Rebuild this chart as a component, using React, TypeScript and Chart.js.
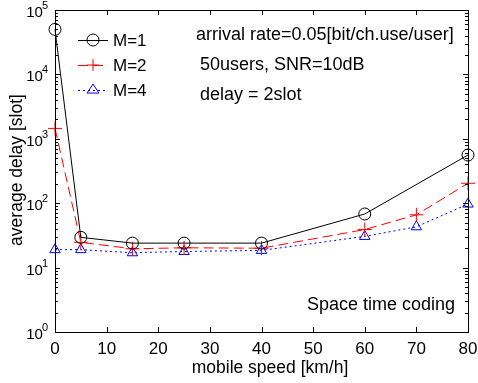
import React, { useEffect, useRef } from 'react';
import { Chart, registerables } from 'chart.js';
Chart.register(...registerables);

const speedsM1 = [0, 5, 15, 25, 40, 60, 80];
const delayM1 = [50000, 29.5, 24, 24, 24, 68, 560];
const speedsM2 = [0, 5, 15, 25, 40, 60, 70, 80];
const delayM2 = [1450, 24.7, 19.6, 20.3, 20, 39, 66, 204];
const speedsM4 = [0, 5, 15, 25, 40, 60, 70, 80];
const delayM4 = [19, 19, 17, 17.8, 18.5, 30.5, 43, 97];
const xTicks = [0, 10, 20, 30, 40, 50, 60, 70, 80];
const yExponents = [0, 1, 2, 3, 4, 5];
const legendLabels = ['M=1', 'M=2', 'M=4'];
const noteLines = ['arrival rate=0.05[bit/ch.use/user]', '50users, SNR=10dB', 'delay = 2slot'];
const cornerNote = 'Space time coding';
const xTitle = 'mobile speed [km/h]';
const yTitle = 'average delay [slot]';

const FONT = "'Liberation Sans', Arial, Helvetica, sans-serif";

const pts = (xs: number[], ys: number[]) => xs.map((x, i) => ({ x, y: ys[i] }));

function drawMarker(ctx: CanvasRenderingContext2D, style: string, x: number, y: number, r: number, color: string) {
  ctx.save();
  ctx.setLineDash([]);
  ctx.strokeStyle = color;
  ctx.lineWidth = 1;
  ctx.beginPath();
  if (style === 'circle') {
    ctx.arc(x, y, r, 0, Math.PI * 2);
  } else if (style === 'cross') {
    ctx.moveTo(x - r, y); ctx.lineTo(x + r, y);
    ctx.moveTo(x, y - r); ctx.lineTo(x, y + r);
  } else {
    const h = r * 1.5;
    ctx.moveTo(x, y - h * 0.66);
    ctx.lineTo(x + r, y + h * 0.34);
    ctx.lineTo(x - r, y + h * 0.34);
    ctx.closePath();
  }
  ctx.stroke();
  ctx.restore();
}

const framePlugin = {
  id: 'frame',
  afterDraw(chart: any) {
    const ctx: CanvasRenderingContext2D = chart.ctx;
    const { left, right, top, bottom } = chart.chartArea;
    const xs = chart.scales.x;
    const ys = chart.scales.y;
    ctx.save();
    ctx.strokeStyle = '#000';
    ctx.lineWidth = 1;
    ctx.setLineDash([]);
    ctx.strokeRect(Math.round(left) + 0.5, Math.round(top) + 0.5, Math.round(right - left), Math.round(bottom - top));
    ctx.beginPath();
    for (const t of xTicks) {
      const px = Math.round(xs.getPixelForValue(t)) + 0.5;
      ctx.moveTo(px, bottom); ctx.lineTo(px, bottom - 5);
      ctx.moveTo(px, top); ctx.lineTo(px, top + 5);
    }
    for (const e of yExponents) {
      const py = Math.round(ys.getPixelForValue(Math.pow(10, e))) + 0.5;
      ctx.moveTo(left, py); ctx.lineTo(left + 5, py);
      ctx.moveTo(right, py); ctx.lineTo(right - 5, py);
      if (e < 5) {
        for (let m = 2; m <= 9; m++) {
          const pm = Math.round(ys.getPixelForValue(m * Math.pow(10, e))) + 0.5;
          ctx.moveTo(left, pm); ctx.lineTo(left + 3, pm);
          ctx.moveTo(right, pm); ctx.lineTo(right - 3, pm);
        }
      }
    }
    ctx.stroke();

    // y tick labels with superscript exponents
    ctx.fillStyle = '#000';
    for (const e of yExponents) {
      const py = ys.getPixelForValue(Math.pow(10, e));
      ctx.font = `11px ${FONT}`;
      ctx.textAlign = 'right';
      ctx.textBaseline = 'alphabetic';
      const ex = String(e);
      const ew = ctx.measureText(ex).width;
      const exX = left - 7;
      ctx.fillText(ex, exX, py - 1);
      ctx.font = `15px ${FONT}`;
      ctx.textBaseline = 'alphabetic';
      ctx.fillText('10', exX - ew + 1, py + 7);
    }

    // axis titles
    ctx.font = `17.5px ${FONT}`;
    ctx.textAlign = 'center';
    ctx.textBaseline = 'middle';
    ctx.fillText(xTitle, 270, 368);
    ctx.save();
    ctx.translate(17, 170);
    ctx.rotate(-Math.PI / 2);
    ctx.fillText(yTitle, 0, 0);
    ctx.restore();

    // legend
    const colors = ['#000000', '#ff0000', '#0000ff'];
    const dashes = [[], [10, 5], [2, 3]];
    const styles = ['circle', 'cross', 'triangle'];
    legendLabels.forEach((lab, i) => {
      const y = 40 + i * 25;
      ctx.save();
      ctx.strokeStyle = colors[i];
      ctx.lineWidth = 1;
      ctx.setLineDash(dashes[i]);
      ctx.beginPath();
      ctx.moveTo(78, y + 0.5); ctx.lineTo(108, y + 0.5);
      ctx.stroke();
      ctx.restore();
      drawMarker(ctx, styles[i], 93, y, 6, colors[i]);
      ctx.font = `17px ${FONT}`;
      ctx.textAlign = 'left';
      ctx.textBaseline = 'middle';
      ctx.fillStyle = '#000';
      ctx.fillText(lab, 113, y + 1);
    });

    // notes
    ctx.font = `18px ${FONT}`;
    ctx.textAlign = 'left';
    ctx.textBaseline = 'middle';
    ctx.fillText(noteLines[0], 196, 35);
    ctx.fillText(noteLines[1], 200, 65);
    ctx.fillText(noteLines[2], 200, 95);
    ctx.textAlign = 'right';
    ctx.fillText(cornerNote, 455, 305);
    ctx.restore();
  },
};

export default function App() {
  const ref = useRef<HTMLCanvasElement>(null);
  useEffect(() => {
    document.body.style.margin = '0';
    const chart = new Chart(ref.current!, {
      type: 'line',
      data: {
        datasets: [
          {
            label: 'M=1',
            data: pts(speedsM1, delayM1),
            borderColor: '#000000',
            borderWidth: 1,
            pointStyle: 'circle',
            pointRadius: 6,
            pointBorderColor: '#000000',
            pointBackgroundColor: 'rgba(0,0,0,0)',
            pointBorderWidth: 1,
            clip: false,
          },
          {
            label: 'M=2',
            data: pts(speedsM2, delayM2),
            borderColor: '#ff0000',
            borderWidth: 1,
            borderDash: [10, 5],
            pointStyle: 'cross',
            pointRadius: 7,
            pointBorderColor: '#ff0000',
            pointBackgroundColor: 'rgba(0,0,0,0)',
            pointBorderWidth: 1,
            clip: false,
          },
          {
            label: 'M=4',
            data: pts(speedsM4, delayM4),
            borderColor: '#0000ff',
            borderWidth: 1,
            borderDash: [2, 3],
            pointStyle: 'triangle',
            pointRadius: 6,
            pointBorderColor: '#0000ff',
            pointBackgroundColor: 'rgba(0,0,0,0)',
            pointBorderWidth: 1,
            clip: false,
          },
        ] as any,
      },
      options: {
        responsive: false,
        animation: false,
        layout: { padding: { top: 10, right: 10, left: 0, bottom: 0 } },
        plugins: { legend: { display: false }, tooltip: { enabled: false } },
        scales: {
          x: {
            type: 'linear',
            min: 0,
            max: 80,
            grid: { display: false },
            border: { display: false },
            ticks: { stepSize: 10, color: '#000', font: { family: FONT, size: 17 }, padding: -1, maxRotation: 0 },
            title: { display: false },
            afterFit: (s: any) => { s.height = 51; },
          },
          y: {
            type: 'logarithmic',
            min: 1,
            max: 100000,
            grid: { display: false },
            border: { display: false },
            ticks: { display: false },
            title: { display: false },
            afterFit: (s: any) => { s.width = 55; },
          },
        },
      } as any,
      plugins: [framePlugin],
    });
    return () => chart.destroy();
  }, []);
  return <canvas ref={ref} width={478} height={383} style={{ display: 'block' }} />;
}
